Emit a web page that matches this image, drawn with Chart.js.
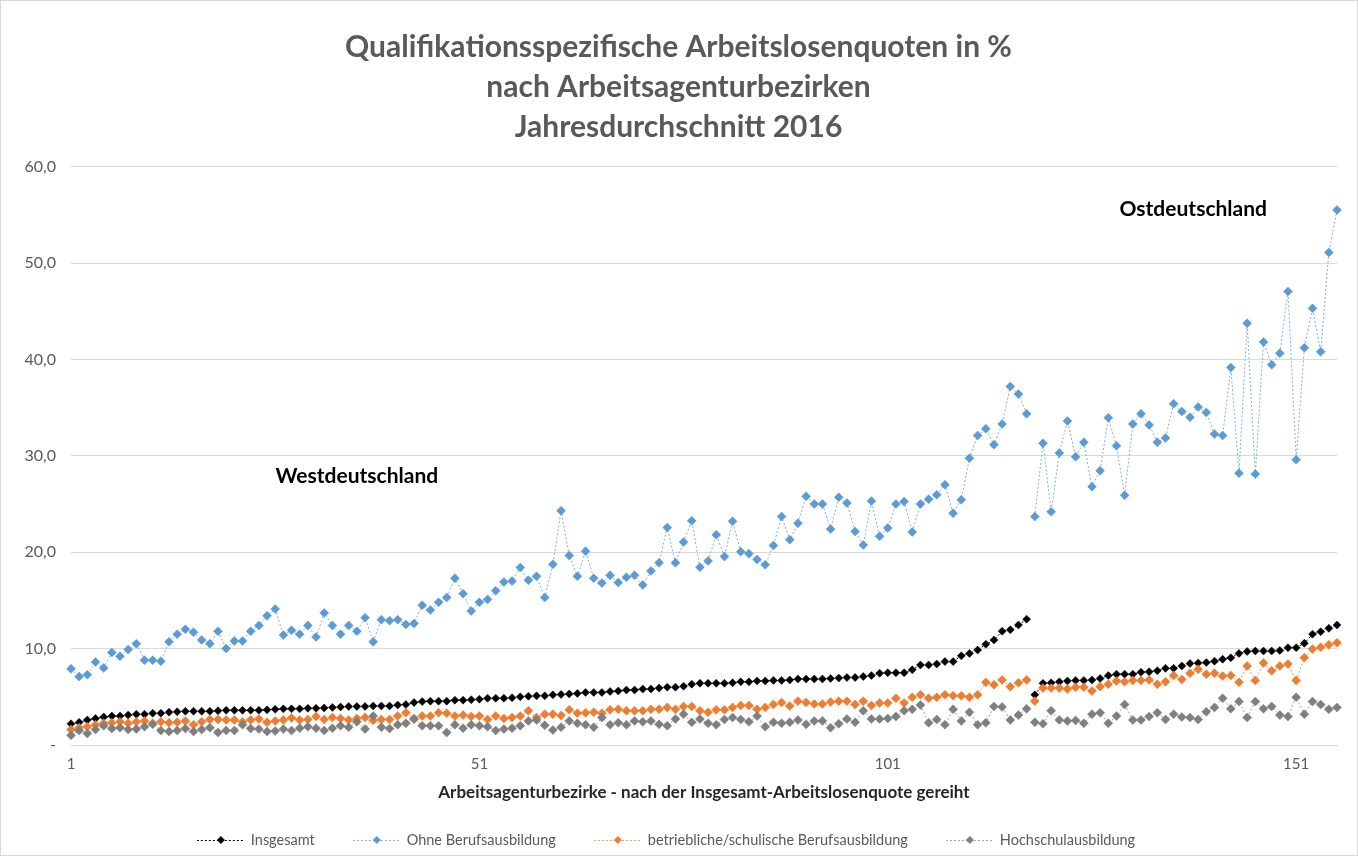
<!DOCTYPE html>
<html>
<head>
<meta charset="utf-8">
<script src="https://cdn.jsdelivr.net/npm/chart.js@4.4.1/dist/chart.umd.min.js"></script>
<style>
html,body{margin:0;padding:0;background:#fff;}
#wrap{width:1358px;height:856px;position:relative;}
canvas{display:block;}
</style>
</head>
<body>
<div id="wrap"><canvas id="c" width="1358" height="856"></canvas></div>
<script>
// ---- data ----
const titleLines = ['Qualifikationsspezifische Arbeitslosenquoten in %', 'nach Arbeitsagenturbezirken', 'Jahresdurchschnitt 2016'];
const xAxisTitle = 'Arbeitsagenturbezirke - nach der Insgesamt-Arbeitslosenquote gereiht';
const seriesNames = ['Insgesamt', 'Ohne Berufsausbildung', 'betriebliche/schulische Berufsausbildung', 'Hochschulausbildung'];

const insgesamt = [2.2,2.35,2.6,2.75,2.9,3.0,3.0,3.1,3.2,3.2,3.3,3.3,3.4,3.45,3.5,3.5,3.5,3.5,3.55,3.6,
 3.6,3.6,3.6,3.6,3.65,3.7,3.75,3.75,3.75,3.8,3.8,3.85,3.9,3.95,4.0,4.0,4.0,4.05,4.05,4.05,
 4.15,4.2,4.4,4.5,4.55,4.55,4.55,4.65,4.65,4.7,4.75,4.85,4.85,4.85,4.9,5.0,5.05,5.1,5.1,
 5.2,5.25,5.3,5.35,5.45,5.45,5.45,5.55,5.6,5.7,5.7,5.8,5.8,5.9,6.0,6.0,6.1,6.3,6.4,6.4,
 6.4,6.4,6.45,6.55,6.55,6.65,6.65,6.7,6.7,6.75,6.85,6.85,6.85,6.85,6.9,6.95,7.0,7.0,7.1,7.2,
 7.45,7.5,7.5,7.5,7.8,8.3,8.3,8.4,8.65,8.65,9.25,9.5,9.85,10.45,10.9,11.8,11.95,12.45,13.05,
 5.2,6.4,6.45,6.55,6.65,6.7,6.7,6.75,6.9,7.2,7.35,7.35,7.35,7.55,7.6,7.7,7.95,7.95,8.2,8.45,
 8.5,8.55,8.7,8.9,9.05,9.5,9.7,9.75,9.75,9.75,9.8,10.1,10.1,10.55,11.5,11.75,12.1,12.45];

const ohneBerufsausbildung = [7.9,7.1,7.3,8.6,8.0,9.6,9.2,9.9,10.5,8.8,8.8,8.7,10.7,11.5,12.0,11.7,10.9,10.5,11.8,10.0,
 10.8,10.8,11.8,12.4,13.4,14.1,11.4,11.9,11.5,12.4,11.2,13.7,12.4,11.5,12.4,11.8,13.2,10.7,13.0,12.9,
 13.0,12.5,12.6,
 14.5,14.0,14.8,15.3,17.3,15.7,13.9,14.8,15.1,16.0,16.9,17.0,18.4,17.1,17.5,15.3,18.75,24.3,19.65,17.5,
 20.1,17.3,16.8,17.6,16.85,17.4,17.6,16.6,18.05,18.9,22.55,18.9,21.05,23.25,18.45,19.1,
 21.8,19.55,23.2,20.05,19.85,19.25,18.7,20.7,23.7,21.3,23.0,25.8,25.0,25.0,22.4,25.7,25.1,22.15,20.75,25.3,
 21.65,22.5,25.0,25.25,22.1,25.0,25.5,25.95,27.0,24.05,25.45,29.75,32.1,32.8,31.15,33.3,37.2,36.4,34.35,
 23.7,31.3,24.2,30.3,33.6,29.9,31.4,26.8,28.45,33.95,31.05,25.9,33.3,34.35,33.2,31.4,31.85,35.4,34.6,34.0,
 35.05,34.5,32.25,32.1,39.15,28.2,43.75,28.1,41.8,39.45,40.65,47.05,29.6,41.2,45.3,40.8,51.1,55.5];

const betrieblicheSchulische = [1.6,1.8,1.9,2.1,2.25,2.3,2.4,2.25,2.4,2.5,2.25,2.4,2.3,2.35,2.5,2.1,2.4,2.65,2.65,2.6,
 2.6,2.4,2.6,2.7,2.35,2.5,2.6,2.8,2.6,2.65,2.95,2.65,2.85,2.75,2.6,2.75,2.85,2.55,
 2.65,2.65,3.0,3.35,2.65,3.0,3.0,3.35,3.3,3.0,3.1,2.95,3.0,2.65,3.0,2.75,2.85,3.0,3.55,2.85,
 3.2,3.2,3.05,3.65,3.3,3.35,3.4,3.3,3.65,3.7,3.55,3.55,3.55,3.7,3.7,3.9,3.7,4.0,4.0,
 3.55,3.4,3.65,3.65,3.9,4.1,4.1,3.7,3.9,4.2,4.4,4.05,4.55,4.4,4.25,4.25,4.45,4.55,4.55,4.2,
 4.55,4.1,4.35,4.35,4.85,4.35,4.95,5.2,4.85,4.95,5.2,5.1,5.1,4.95,5.2,6.5,6.25,6.75,6.05,6.45,6.75,
 4.55,5.9,5.9,5.9,5.8,6.0,6.0,5.6,6.05,6.3,6.65,6.55,6.7,6.7,6.75,6.3,6.55,7.2,6.8,7.45,
 7.85,7.35,7.45,7.15,7.2,6.5,8.2,6.7,8.5,7.7,8.2,8.4,6.7,9.05,9.95,10.15,10.4,10.6];

const hochschulausbildung = [1.0,1.5,1.2,1.6,2.0,1.7,1.8,1.6,1.65,1.9,2.15,1.5,1.4,1.5,1.7,1.4,1.6,1.8,1.3,1.5,
 1.5,2.1,1.7,1.65,1.4,1.45,1.65,1.5,1.75,1.9,1.75,1.5,1.75,2.0,1.85,2.4,1.65,3.0,
 1.85,1.7,2.1,2.25,2.75,2.0,2.0,2.0,1.3,2.1,1.75,2.1,2.0,1.9,1.5,1.65,1.75,2.0,2.5,2.6,
 2.05,1.55,1.85,2.5,2.25,2.1,1.85,2.85,2.1,2.3,2.1,2.5,2.4,2.5,2.15,2.0,2.7,3.2,2.35,
 2.7,2.25,2.1,2.65,2.85,2.65,2.4,3.0,1.9,2.35,2.25,2.35,2.6,2.15,2.5,2.5,1.8,2.2,2.7,2.35,
 3.55,2.7,2.7,2.75,2.95,3.55,3.7,4.15,2.3,2.65,2.1,3.7,2.5,3.4,2.1,2.3,4.0,3.95,2.6,3.1,3.75,
 2.35,2.2,3.55,2.6,2.5,2.55,2.25,3.2,3.35,2.25,3.0,4.2,2.6,2.6,2.95,3.35,2.65,3.2,2.9,2.85,
 2.65,3.45,3.9,4.85,3.75,4.5,2.85,4.5,3.75,4.0,3.1,2.95,4.95,3.2,4.5,4.2,3.7,3.9];

const categories = insgesamt.map((v, i) => String(i + 1));   // Bezirk 1 ... 156, ordered by Insgesamt
const xTickLabels = ['1', '51', '101', '151'];
const yTicks = [0, 10, 20, 30, 40, 50, 60];
const lastWestIndex = 117;   // Westdeutschland = Bezirke 1..118, Ostdeutschland = 119..156
const regionNames = ['Westdeutschland', 'Ostdeutschland'];
const regionAnchors = [[35, 27.9], [137.4, 55.6]];   // [category index, value] where the region name sits

// ---- styles ----
const FONT = 'Lato, "Open Sans", "DejaVu Sans", sans-serif';
const colors = ['#000000', '#5B9BD5', '#ED7D31', '#7F7F7F'];
const lineColors = ['#000000', '#7FB0DE', '#F0995C', '#A0A0A0'];
const seriesData = [insgesamt, ohneBerufsausbildung, betrieblicheSchulische, hochschulausbildung];

Chart.defaults.font.family = FONT;

function makeSample(i) {
  const c = document.createElement('canvas');
  c.width = 48; c.height = 10;
  const g = c.getContext('2d');
  g.strokeStyle = lineColors[i];
  g.lineWidth = 1;
  g.setLineDash([2, 2]);
  g.beginPath(); g.moveTo(0, 5.5); g.lineTo(48, 5.5); g.stroke();
  g.setLineDash([]);
  g.fillStyle = colors[i];
  g.beginPath(); g.moveTo(24, 1); g.lineTo(28, 5); g.lineTo(24, 9); g.lineTo(20, 5); g.closePath(); g.fill();
  return c;
}

const bgPlugin = {
  id: 'bg',
  beforeDraw(chart) {
    const ctx = chart.ctx;
    ctx.save();
    ctx.fillStyle = '#fff';
    ctx.fillRect(0, 0, chart.width, chart.height);
    ctx.strokeStyle = '#D9D9D9';
    ctx.lineWidth = 1;
    ctx.strokeRect(0.5, 0.5, chart.width - 1, chart.height - 1);
    ctx.restore();
  }
};

const regionPlugin = {
  id: 'regions',
  afterDatasetsDraw(chart) {
    const ctx = chart.ctx;
    const xs = chart.scales.x, ys = chart.scales.y;
    ctx.save();
    ctx.font = 'bold 21px ' + FONT;
    ctx.fillStyle = '#000';
    ctx.textAlign = 'center';
    ctx.textBaseline = 'middle';
    regionNames.forEach((t, i) => {
      ctx.fillText(t, xs.getPixelForValue(regionAnchors[i][0]), ys.getPixelForValue(regionAnchors[i][1]));
    });
    ctx.restore();
  }
};

const legendPlugin = {
  id: 'lineLegend',
  afterDraw(chart) {
    const ctx = chart.ctx;
    ctx.save();
    ctx.font = '14.5px ' + FONT;
    ctx.fillStyle = '#595959';
    ctx.textBaseline = 'middle';
    ctx.textAlign = 'left';
    const sampleW = 48, gapText = 6, gapItem = 38;
    const items = chart.data.datasets.map((ds, i) => ({ text: ds.label, w: ctx.measureText(ds.label).width, img: makeSample(i) }));
    const total = items.reduce((s, it) => s + sampleW + gapText + it.w, 0) + gapItem * (items.length - 1);
    let x = 666 - total / 2;
    const y = 840;
    items.forEach(it => {
      ctx.drawImage(it.img, x, y - 5);
      x += sampleW + gapText;
      ctx.fillText(it.text, x, y);
      x += it.w + gapItem;
    });
    ctx.restore();
  }
};

const datasets = seriesData.map((d, i) => ({
  label: seriesNames[i],
  data: d,
  borderColor: lineColors[i],
  backgroundColor: colors[i],
  borderWidth: 1,
  borderDash: [2, 2],
  pointStyle: 'rectRot',
  pointRadius: i === 0 ? 4 : 4.5,
  pointBackgroundColor: colors[i],
  pointBorderColor: colors[i],
  pointBorderWidth: 0.5,
  pointHoverRadius: 4,
  tension: 0,
  fill: false,
  order: 3 - i,
  segment: {
    borderColor: c => (c.p0DataIndex === lastWestIndex ? 'rgba(0,0,0,0)' : undefined)
  }
}));

new Chart(document.getElementById('c'), {
  type: 'line',
  data: { labels: categories, datasets },
  plugins: [bgPlugin, regionPlugin, legendPlugin],
  options: {
    responsive: false,
    devicePixelRatio: 1,
    animation: false,
    events: [],
    layout: { padding: { left: 20, right: 21, top: 0, bottom: 0 } },
    plugins: {
      legend: { display: false },
      tooltip: { enabled: false },
      title: {
        display: true,
        text: titleLines,
        color: '#595959',
        font: { size: 30, weight: 'bold', family: FONT, lineHeight: 1.34 },
        padding: { top: 27, bottom: 19 }
      }
    },
    scales: {
      x: {
        type: 'category',
        offset: false,
        grid: { display: false, drawTicks: false },
        border: { display: true, color: '#D9D9D9' },
        ticks: {
          autoSkip: false,
          maxRotation: 0,
          minRotation: 0,
          padding: 10,
          color: '#595959',
          font: { size: 15 },
          callback: function (val, idx) {
            const l = categories[idx];
            return xTickLabels.includes(l) ? l : '';
          }
        },
        title: {
          display: true,
          text: xAxisTitle,
          color: '#262626',
          font: { size: 17, weight: 'bold', lineHeight: 1.2 },
          padding: { top: 4, bottom: 53 }
        },
        afterFit: s => { s.height = 111; }
      },
      y: {
        min: 0,
        max: 60,
        afterBuildTicks: s => { s.ticks = yTicks.map(v => ({ value: v })); },
        grid: { color: '#D9D9D9', lineWidth: 1, drawTicks: false },
        border: { display: false },
        ticks: {
          padding: 15,
          color: '#595959',
          font: { size: 16 },
          callback: v => (v === 0 ? '-' : v.toFixed(1).replace('.', ','))
        },
        afterFit: s => { s.width = 51; }
      }
    }
  }
});
</script>
</body>
</html>
